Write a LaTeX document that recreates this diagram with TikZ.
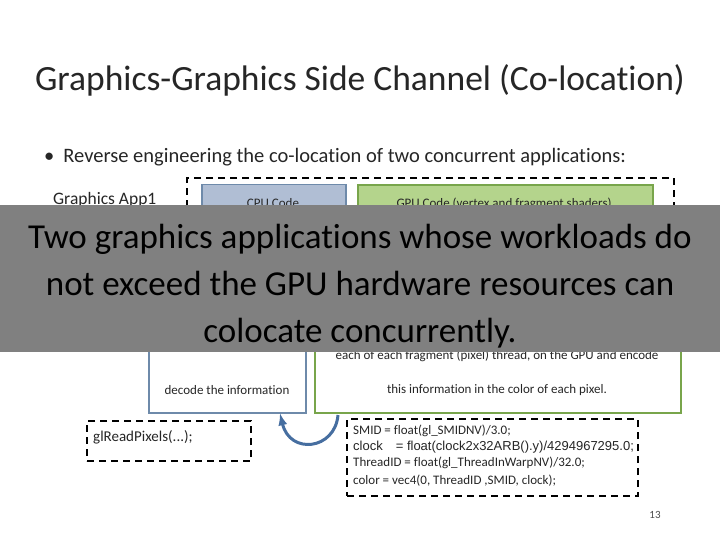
\documentclass[tikz,border=0pt]{standalone}
\usepackage{fontspec}
\setmainfont{Carlito}[Ligatures=NoCommon]
\newfontfamily\arialf{Liberation Sans}
\definecolor{cpuc}{RGB}{110,138,170}
\definecolor{cpuf}{RGB}{176,190,212}
\definecolor{gpuc}{RGB}{120,165,75}
\definecolor{gpuf}{RGB}{180,212,140}
\definecolor{arrc}{RGB}{70,110,160}
\begin{document}
\begin{tikzpicture}[x=1pt,y=-1pt,
  dbox/.style={draw=black,line width=2.2pt,dash pattern=on 7pt off 5pt},
  cpubox/.style={draw=cpuc,line width=1.5pt},
  gpubox/.style={draw=gpuc,line width=2pt},
  tx/.style={inner sep=0pt,font=\fontsize{13}{15}\selectfont,text=black!85}]
\useasboundingbox (0,0) rectangle (720,540);
\fill[white] (0,0) rectangle (720,540);
\node[tx,font=\fontsize{35.5}{40}\selectfont] (title) at (360,80) {Graphics-Graphics Side Channel (Co-location)};
\node[tx,anchor=west,font=\fontsize{20.5}{24}\selectfont] (bul) at (44,157) {•\hspace{9pt}Reverse engineering the co-location of two concurrent applications:};
\node[tx,anchor=west,font=\fontsize{17.5}{20}\selectfont] (app) at (53,200) {Graphics App1};
\node[dbox,minimum width=487pt,minimum height=60pt,anchor=north west] (outer) at (186,177) {};
\node[cpubox,fill=cpuf,anchor=north west,minimum width=144pt,minimum height=40pt] (cpu1) at (201,184) {};
\node[tx,anchor=north] (cpu1t) at (273,198) {CPU Code};
\node[gpubox,fill=gpuf,anchor=north west,minimum width=295pt,minimum height=40pt] (gpu1) at (357,184) {};
\node[tx,anchor=north] (gpu1t) at (504,198) {GPU Code (vertex and fragment shaders)};
\node[cpubox,fill=white,anchor=north west,minimum width=157pt,minimum height=70pt] (cpu2) at (148,342) {};
\node[tx] (cpu2t) at (227,390) {decode the information};
\node[gpubox,fill=white,anchor=north west,minimum width=366pt,minimum height=70pt] (gpu2) at (314,342) {};
\node[tx] (gpu2a) at (497,356) {each of each fragment (pixel) thread, on the GPU and encode};
\node[tx] (gpu2t) at (497,390) {this information in the color of each pixel.};
\node[dbox,anchor=north west,minimum width=164pt,minimum height=40pt] (rp) at (86,420) {};
\node[tx,anchor=west,font=\fontsize{15}{17}\selectfont] (rpt) at (93,437) {glReadPixels(...);};
\node[dbox,anchor=north west,minimum width=291pt,minimum height=77pt] (code) at (346,418) {};
\node[tx,anchor=west] (c1) at (353,431) {SMID = float(gl\_SMIDNV)/3.0;};
\node[tx,anchor=west,font=\arialf\fontsize{13}{15}\selectfont] (c2) at (353,447) {clock\quad = float(clock2x32ARB().y)/4294967295.0;};
\node[tx,anchor=west] (c3) at (353,463) {ThreadID = float(gl\_ThreadInWarpNV)/32.0;};
\node[tx,anchor=west] (c4) at (353,481) {color = vec4(0, ThreadID ,SMID, clock);};
\coordinate (as) at (338,415);
\draw[arrc,line width=3pt,-latex] (as) .. controls (335,450) and (290,455) .. (cpu2.south -| 280,0);
\fill[black!50] (0,205) rectangle (720,352);
\node[tx,align=center,text=black,font=\fontsize{35}{47}\selectfont] (band) at (360,286) {Two graphics applications whose workloads do\\not exceed the GPU hardware resources can\\colocate concurrently.};
\node[tx,font=\fontsize{11}{13}\selectfont,text=black!70] (pn) at (655,515) {13};
\end{tikzpicture}
\end{document}
